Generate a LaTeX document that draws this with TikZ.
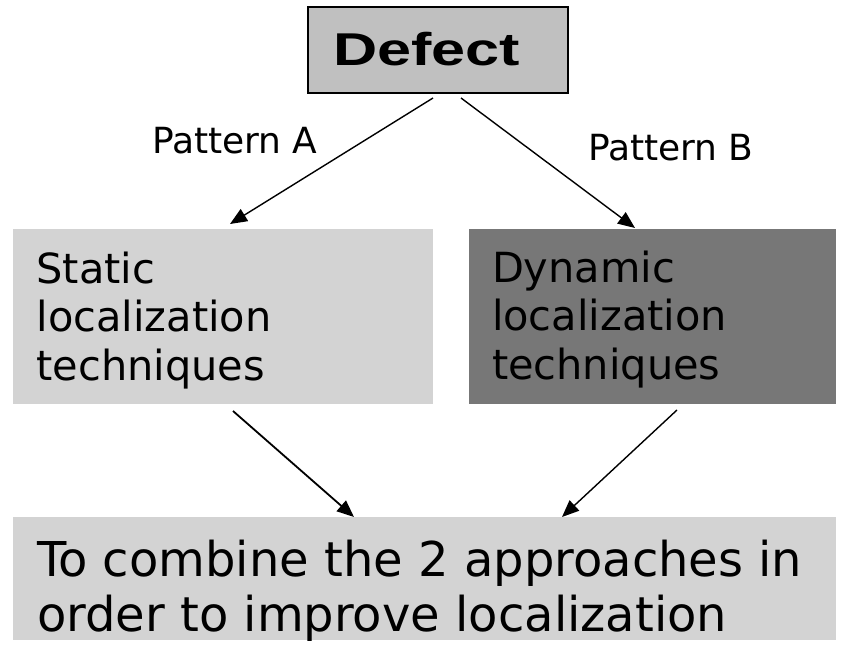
\documentclass[tikz,border=0pt]{standalone}
\usepackage{fontspec}
\setmainfont{DejaVu Sans}
\newfontfamily\defectfont[FakeStretch=1.33]{Liberation Sans}
\usetikzlibrary{arrows.meta}
\definecolor{defgray}{HTML}{C0C0C0}
\definecolor{lightbox}{HTML}{D3D3D3}
\definecolor{darkbox}{HTML}{777777}
\tikzset{
  panel/.style={anchor=north west, inner sep=0pt, outer sep=0pt},
  txt/.style={anchor=base west, inner sep=0pt, outer sep=0pt, align=left},
  bigtxt/.style={txt, font=\fontsize{41.5}{48.5}\selectfont},
  hugetxt/.style={txt, font=\fontsize{48}{55}\selectfont},
  pattxt/.style={txt, font=\fontsize{36}{43}\selectfont},
  conn/.style={line width=1.4pt, -{Triangle[length=17pt,width=14pt]}},
}
\begin{document}
\begin{tikzpicture}[x=1pt,y=-1pt]
\useasboundingbox (0,0) rectangle (843,646);
\fill[white] (0,0) rectangle (843,646);
% boxes
\node[panel, fill=defgray, draw=black, line width=1.6pt, minimum width=260pt, minimum height=86pt] (defect) at (308,7) {};
\node[panel, fill=lightbox, minimum width=420pt, minimum height=175pt] (static) at (13,229) {};
\node[panel, fill=darkbox, minimum width=367pt, minimum height=175pt] (dynamic) at (469,229) {};
\node[panel, fill=lightbox, minimum width=823pt, minimum height=123pt] (combine) at (13,517) {};
% texts (base anchor = baseline of last line)
\node[txt, font=\defectfont\bfseries\fontsize{46}{52}\selectfont] (defecttxt) at (333,65) {Defect};
\node[pattxt] (pata) at (152,153) {Pattern A};
\node[pattxt] (patb) at (588,160) {Pattern B};
\node[bigtxt] (statictxt) at (36.5,380) {Static\\localization\\techniques};
\node[bigtxt] (dynamictxt) at (492,379) {Dynamic\\localization\\techniques};
\node[hugetxt] (combinetxt) at (37,631) {To combine the 2 approaches in\\order to improve localization};
% connector ends
\coordinate (a1) at (433,98);
\coordinate (a2) at (230,224);
\coordinate (b1) at (461,98);
\coordinate (b2) at (635,228);
\coordinate (c1) at (233,411);
\coordinate (c2) at (354,517);
\coordinate (d1) at (677,410);
\coordinate (d2) at (562,517);
\draw[conn] (a1) -- (a2);
\draw[conn] (b1) -- (b2);
\draw[conn, line width=1.8pt] (c1) -- (c2);
\draw[conn] (d1) -- (d2);
\end{tikzpicture}
\end{document}
